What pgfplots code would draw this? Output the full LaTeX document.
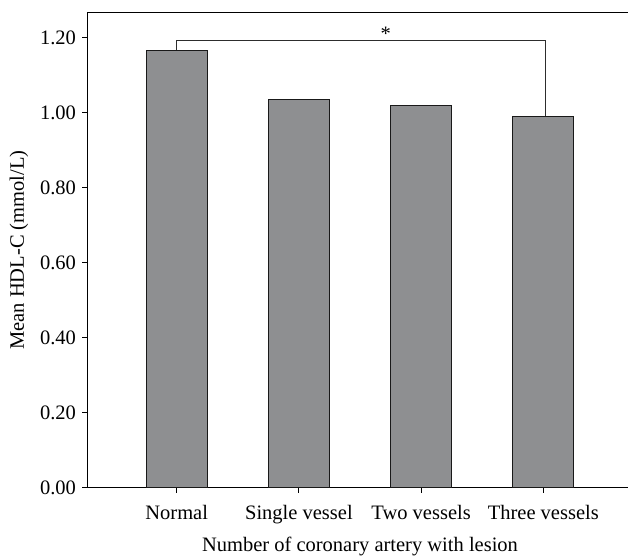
\documentclass[border=0pt]{standalone}
\usepackage{fontspec}
\setmainfont{Liberation Serif}
\usepackage{pgfplots}
\pgfplotsset{compat=1.18}
\definecolor{barGray}{RGB}{142,143,145}
\definecolor{lineDark}{RGB}{45,45,45}

\begin{document}
\begin{tikzpicture}
% the axis box runs past the right edge of the page, so its right side is cut off
\begin{axis}[
    scale only axis,
    width=560pt, height=475.4pt,
    axis line style={line width=0.9pt, black},
    xmin=-0.73, xmax=3.8526,
    ymin=0, ymax=1.267,
    xtick={0,1,2,3},
    xticklabels={Normal, Single vessel, Two vessels, Three vessels},
    xtick pos=bottom,
    ytick={0,0.2,0.4,0.6,0.8,1.0,1.2},
    ytick pos=left,
    tick align=outside,
    major tick length=5pt,
    tick style={line width=0.9pt, black},
    yticklabel style={/pgf/number format/.cd, fixed, fixed zerofill, precision=2, assume math mode=true, /tikz/xshift=-3pt},
    xticklabel style={anchor=base, yshift=-27pt},
    font=\fontsize{20.5}{24}\selectfont,
    xlabel={Number of coronary artery with lesion},
    xlabel style={at={(axis cs:1.5,0)}, anchor=base, yshift=-63.3pt},
    ylabel={Mean HDL-C (mmol/L)},
    ylabel style={yshift=5pt},
]
\addplot[ybar, bar width=0.5, fill=barGray, draw=black!90, line width=0.8pt]
  coordinates {(0,1.1655) (1,1.035) (2,1.0197) (3,0.990)};

% significance bracket
\draw[line width=0.9pt, lineDark] (axis cs:0,1.1655) -- (axis cs:0,1.191)
  -- (axis cs:3.02,1.191) -- (axis cs:3.02,0.990);
\node[above, inner sep=0pt] at (axis cs:1.71,1.191) {*};
\end{axis}
\pgfresetboundingbox
\path (-87.5pt,-68.3pt) rectangle (540.5pt,487.7pt);
\end{tikzpicture}
\end{document}
